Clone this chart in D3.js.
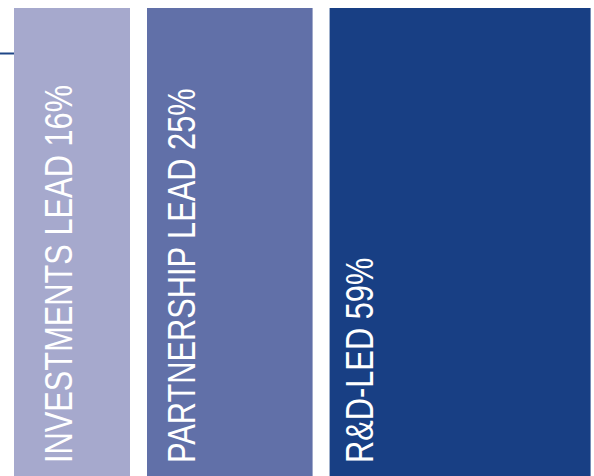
<!DOCTYPE html>
<html>
<head>
<meta charset="utf-8">
<script src="https://cdn.jsdelivr.net/npm/d3@7"></script>
<style>
  html, body { margin: 0; padding: 0; background: #fff; }
  svg { display: block; }
</style>
</head>
<body>
<svg id="chart" width="594" height="476"></svg>
<script>
// chart data
const categories = ["INVESTMENTS LEAD", "PARTNERSHIP LEAD", "R&D-LED"];
const shares = [16, 25, 59];
const colours = ["#a6a9cd", "#6170a8", "#183f84"];

const renderChart = (selector) => {
    const svg = d3.select(selector);
    const width = +svg.attr("width"), height = +svg.attr("height");
    const left = 14, top = 8, gap = 17;

    // bar width grows with the share (log scale)
    const widthScale = d3.scaleLog()
        .domain(d3.extent(shares))
        .range([116, 261]);

    let cursor = left;
    const bars = shares.map((v, i) => {
        const w = widthScale(v);
        const b = { name: categories[i], value: v, colour: colours[i], x: cursor, w: w };
        cursor += w + gap;
        return b;
    });

    // little rule on the left edge
    svg.append("line")
        .attr("x1", 0).attr("x2", left)
        .attr("y1", 53.5).attr("y2", 53.5)
        .attr("stroke", "#1f4687")
        .attr("stroke-width", 2);

    svg.selectAll(".bar")
        .data(bars)
        .enter().append("rect")
        .attr("class", "bar")
        .attr("x", d => d.x)
        .attr("y", top)
        .attr("width", d => d.w)
        .attr("height", height - top)
        .attr("fill", d => d.colour);

    // label baseline offsets from the bar's left edge
    const labelInset = [58, 48, 43];
    const labels = svg.selectAll(".label")
        .data(bars)
        .enter().append("text")
        .attr("class", "label")
        .attr("transform", (d, i) => `translate(${d.x + labelInset[i]},463) rotate(-90)`)
        .attr("fill", "#fff")
        .attr("font-family", "'Liberation Sans Narrow', 'Arial Narrow', 'Liberation Sans', sans-serif")
        .attr("font-size", 38)
        .text(d => `${d.name} ${d.value}%`);

    // squeeze to a condensed look (no narrow font installed)
    labels.each(function() {
        const len = this.getComputedTextLength();
        d3.select(this)
            .attr("textLength", len * 0.81)
            .attr("lengthAdjust", "spacingAndGlyphs");
    });
};

document.addEventListener('DOMContentLoaded', () => {
    renderChart("#chart");
});
</script>
</body>
</html>
